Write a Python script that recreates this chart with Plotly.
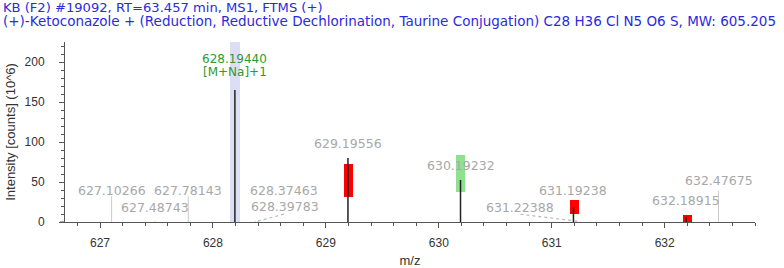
import plotly.graph_objects as go

# ---------------- data ----------------
title_line1 = "KB (F2) #19092, RT=63.457 min, MS1, FTMS (+)"
title_line2 = ("(+)-Ketoconazole + (Reduction, Reductive Dechlorination, Taurine Conjugation) "
               "C28 H36 Cl N5 O6 S, MW: 605.205")

peak_mz = [627.10266, 627.48743, 627.78143, 628.19440, 628.37463, 628.39783,
           629.19556, 630.19232, 631.19238, 631.22388, 632.18915, 632.47675]
peak_int = [32, 1, 32, 165, 1, 1, 80, 52.5, 18, 1, 6.7, 39]
peak_matched = [False, False, False, True, False, False,
                True, True, True, False, True, False]
peak_labels = ["627.10266", "627.48743", "627.78143", "628.19440", "628.37463", "628.39783",
               "629.19556", "630.19232", "631.19238", "631.22388", "632.18915", "632.47675"]
ion_label = "[M+Na]+1"

iso_mz = [628.197, 629.202, 630.193, 631.200, 632.204]
iso_low = [0, 31, 38, 9.6, 0]
iso_high = [225, 72, 84, 27.5, 8.75]
iso_kind = ["mono", "miss", "match", "miss", "miss"]

x_ticks = [627, 628, 629, 630, 631, 632]
y_ticks = [0, 50, 100, 150, 200]

# ---------------- layout / style ----------------
X_RANGE = [626.69, 632.80]
Y_RANGE = [0, 225]
PX_PER_X = 690 / (X_RANGE[1] - X_RANGE[0])
PX_PER_Y = 180 / (Y_RANGE[1] - Y_RANGE[0])

kind_color = {"mono": "#dcdef6", "miss": "#ff0000", "match": "#8fe08f"}
# label offsets in pixels (dx, dy) from the peak top; leader = draw dotted leader line
label_offsets = [(0, 6), (0, 14), (0, 6), (0, 25), (29, 31), (27.5, 14.5),
                 (0, 15), (0, 15), (0, 17), (-57, 14), (0, 16.6), (0, 10)]
label_leader = [False, False, False, False, False, True,
                False, False, False, True, False, False]

LABEL_FONT = dict(family="DejaVu Sans", size=12.5, color="#a8a8a8")
ION_FONT = dict(family="DejaVu Sans", size=12, color="#2e9a2e")

fig = go.Figure()

# isotope pattern boxes
fig.add_trace(go.Bar(
    x=iso_mz,
    y=[h - l for h, l in zip(iso_high, iso_low)],
    base=iso_low,
    width=0.085,
    marker=dict(color=[kind_color[k] for k in iso_kind], line=dict(width=0)),
    hoverinfo="skip", showlegend=False,
))

# peak sticks
def sticks(sel):
    xs, ys = [], []
    for mz, it, m in zip(peak_mz, peak_int, peak_matched):
        if m == sel:
            xs += [mz, mz, None]
            ys += [0, it, None]
    return xs, ys

gx, gy = sticks(False)
fig.add_trace(go.Scatter(x=gx, y=gy, mode="lines",
                         line=dict(color="#cccccc", width=1),
                         hoverinfo="skip", showlegend=False))
bx, by = sticks(True)
fig.add_trace(go.Scatter(x=bx, y=by, mode="lines",
                         line=dict(color="#222222", width=1.5),
                         hoverinfo="skip", showlegend=False))

annotations = []
shapes = []
for mz, it, lab, (dx, dy), lead in zip(peak_mz, peak_int, peak_labels, label_offsets, label_leader):
    if lab == "628.19440":
        annotations.append(dict(x=mz, y=it, xref="x", yref="y", text=lab, showarrow=False,
                                xshift=dx, yshift=dy + 6.5, yanchor="middle", font=ION_FONT,
                                borderpad=0))
        annotations.append(dict(x=mz, y=it, xref="x", yref="y", text=ion_label, showarrow=False,
                                xshift=dx, yshift=dy - 6.5, yanchor="middle", font=ION_FONT,
                                borderpad=0))
        continue
    annotations.append(dict(x=mz, y=it, xref="x", yref="y", text=lab, showarrow=False,
                            xshift=dx, yshift=dy, yanchor="middle", font=LABEL_FONT))
    if lead:
        shapes.append(dict(type="line", xref="x", yref="y",
                           x0=mz, y0=it,
                           x1=mz + dx / PX_PER_X, y1=it + (dy - 7) / PX_PER_Y,
                           line=dict(color="#b8b8b8", width=1.2, dash="dot")))

# x axis overhang to the left of the y axis
shapes.append(dict(type="line", xref="paper", yref="y", x0=-5 / 690, x1=0, y0=0, y1=0,
                   line=dict(color="#555555", width=1)))

# titles
annotations.append(dict(x=-63 / 690, y=(222 - 7.5) / 180, xref="paper", yref="paper",
                        text=title_line1, showarrow=False, xanchor="left", yanchor="middle",
                        borderpad=0,
                        font=dict(family="DejaVu Sans", size=13.1, color="#2b2bdd")))
annotations.append(dict(x=-63 / 690, y=(222 - 21) / 180, xref="paper", yref="paper",
                        text=title_line2, showarrow=False, xanchor="left", yanchor="middle",
                        borderpad=0,
                        font=dict(family="DejaVu Sans", size=13.5, color="#2b2bdd")))

fig.update_layout(
    width=784, height=268,
    margin=dict(l=65, r=29, t=42, b=46, autoexpand=False),
    paper_bgcolor="white", plot_bgcolor="white",
    barmode="overlay", bargap=0,
    showlegend=False,
    annotations=annotations,
    shapes=shapes,
    font=dict(family="Liberation Sans", size=12, color="#333333"),
)

fig.update_xaxes(
    range=X_RANGE, tickvals=x_ticks, ticktext=[str(v) for v in x_ticks],
    ticks="outside", ticklen=5, tickcolor="#555555", tickwidth=1,
    minor=dict(dtick=0.2, tick0=627, ticks="outside", ticklen=3, tickcolor="#555555"),
    showline=True, linecolor="#555555", linewidth=1,
    showgrid=False, zeroline=False, automargin=False,
    tickfont=dict(family="Liberation Sans", size=12, color="#333333"),
    ticklabelstandoff=5,
    title=dict(text="m/z", font=dict(family="Liberation Sans", size=13, color="#333333"),
               standoff=6),
)
fig.update_yaxes(
    range=Y_RANGE, tickvals=y_ticks, ticktext=[str(v) for v in y_ticks],
    ticks="outside", ticklen=5, tickcolor="#555555", tickwidth=1,
    minor=dict(dtick=10, tick0=0, ticks="outside", ticklen=3, tickcolor="#555555"),
    showline=True, linecolor="#555555", linewidth=1,
    showgrid=False, zeroline=False, automargin=False,
    tickfont=dict(family="Liberation Sans", size=12, color="#333333"),
    ticklabelstandoff=12,
    title=dict(text="Intensity [counts] (10^6)",
               font=dict(family="Liberation Sans", size=13, color="#333333"),
               standoff=6),
)

fig.write_html("out.html",
               config={"displayModeBar": False},
               post_script="document.body.style.margin='0';document.body.style.overflow='hidden';")
